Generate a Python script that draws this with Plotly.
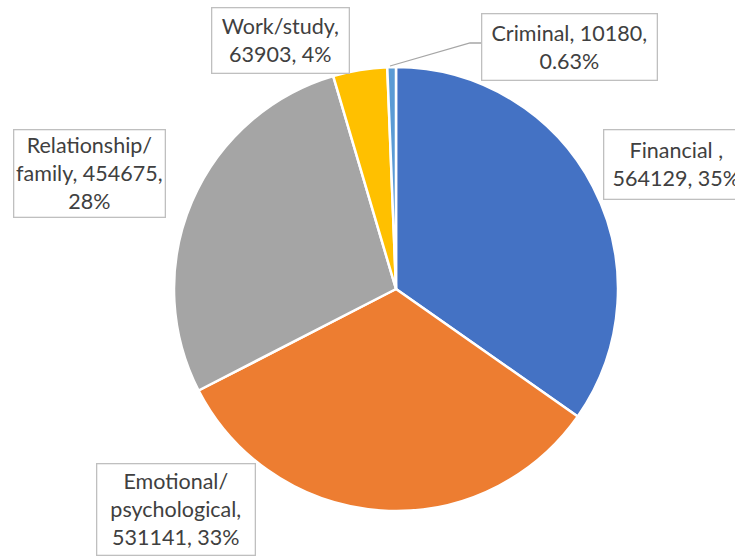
import plotly.graph_objects as go

categories = ["Financial ", "Emotional/psychological", "Relationship/family", "Work/study", "Criminal"]
values = [564129, 531141, 454675, 63903, 10180]
pct_labels = ["35%", "33%", "28%", "4%", "0.63%"]
colors = ["#4472C4", "#ED7D31", "#A5A5A5", "#FFC000", "#5B9BD5"]

W, H = 735, 556
def px(x): return x / W
def py(y): return 1 - y / H

# label text layouts (line breaks as in the reference)
label_text = [
    f"{categories[0]},<br>{values[0]}, {pct_labels[0]}",
    f"Emotional/<br>psychological,<br>{values[1]}, {pct_labels[1]}",
    f"Relationship/<br>family, {values[2]},<br>{pct_labels[2]}",
    f"{categories[3]},<br>{values[3]}, {pct_labels[3]}",
    f"{categories[4]}, {values[4]},<br>{pct_labels[4]}",
]
# box geometry in pixels: left, top, width, height
boxes = [
    (603, 130, 146, 70),
    (96, 463, 159, 92),
    (13, 129, 152, 88),
    (211, 8, 138, 66),
    (481, 13, 176, 67),
]

cx, cy, r = 396, 289, 222
fig = go.Figure(go.Pie(
    labels=categories, values=values, sort=False, direction="clockwise",
    rotation=0, textinfo="none", hoverinfo="label+value+percent",
    marker=dict(colors=colors, line=dict(color="white", width=2.5)),
    domain=dict(x=[px(cx - r), px(cx + r)], y=[py(cy + r), py(cy - r)]),
    showlegend=False,
))

annotations = []
for txt, (l, t, w, h) in zip(label_text, boxes):
    annotations.append(dict(
        x=px(l + w / 2), y=py(t + h / 2), xref="paper", yref="paper",
        xanchor="center", yanchor="middle", text=txt, showarrow=False,
        width=w - 2, height=h - 2, borderpad=0,
        bordercolor="#BFBFBF", borderwidth=1.3, bgcolor="white",
        font=dict(family="Lato", size=21.5, color="#404040"), align="center",
    ))

fig.update_layout(
    width=W, height=H, margin=dict(l=0, r=0, t=0, b=0),
    paper_bgcolor="white", plot_bgcolor="white",
    annotations=annotations,
    shapes=[dict(type="path", xref="paper", yref="paper",
                 path=f"M {px(390)},{py(66)} L {px(470)},{py(43)} L {px(481)},{py(43)}",
                 line=dict(color="#A6A6A6", width=1.3))],
)
fig.write_html("out.html", config={"displayModeBar": False},
               post_script="document.body.style.margin='0';document.body.style.overflow='hidden';")
